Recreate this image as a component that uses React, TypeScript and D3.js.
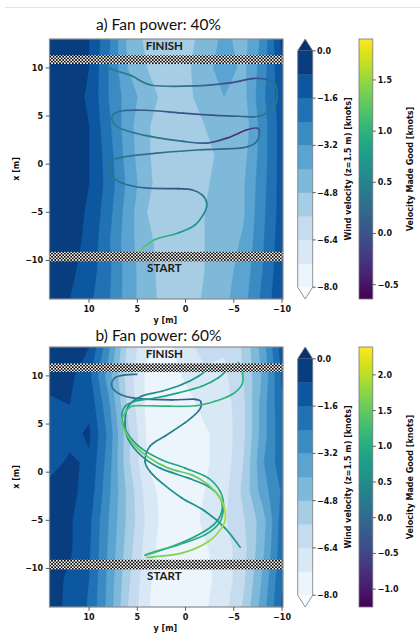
import React from 'react';
import * as d3 from 'd3';

// ---------- data ----------
const gridY = [14, 12, 10, 8, 6, 4, 2, 0, -2, -4, -6, -8, -10];
const gridX = [13, 10, 7, 4, 1, -2, -5, -8, -11, -14];

const wind40 = [
  [-0.6, -0.5, -0.8, -2.2, -4.2, -5.0, -5.3, -5.1, -4.5, -3.8, -4.3, -3.0, -0.6],
  [-0.3, -0.5, -0.8, -2.4, -4.0, -4.8, -5.2, -5.0, -4.3, -3.6, -4.2, -2.8, -0.9],
  [-0.3, -0.5, -0.9, -2.4, -3.6, -4.4, -5.1, -5.0, -4.5, -4.0, -4.3, -2.6, -1.1],
  [-0.3, -0.5, -0.8, -2.2, -3.7, -4.7, -5.3, -5.2, -4.8, -4.5, -4.5, -2.8, -1.2],
  [-0.3, -0.5, -0.8, -2.0, -3.6, -4.7, -5.3, -5.4, -5.0, -4.6, -4.3, -2.8, -1.2],
  [-0.3, -0.5, -0.8, -1.9, -3.4, -4.6, -5.3, -5.3, -4.9, -4.5, -4.1, -2.7, -1.2],
  [-0.3, -0.5, -0.9, -2.1, -3.6, -4.8, -5.3, -5.3, -4.8, -4.5, -4.1, -2.6, -1.2],
  [-0.3, -0.5, -1.0, -2.3, -3.7, -4.6, -5.2, -5.4, -4.8, -4.4, -3.9, -2.5, -1.1],
  [-0.4, -0.6, -1.2, -2.2, -3.6, -4.5, -5.2, -5.3, -4.8, -4.3, -3.7, -2.4, -1.0],
  [-0.5, -0.8, -1.4, -2.3, -3.6, -4.5, -5.1, -5.2, -4.7, -4.2, -3.5, -2.2, -0.9],
];

const wind60 = [
  [-0.6, -0.5, -0.8, -3.0, -5.8, -7.0, -7.4, -6.8, -6.0, -6.3, -5.5, -3.6, -1.2],
  [-0.4, -0.6, -1.4, -3.6, -6.0, -7.4, -7.6, -7.1, -6.6, -6.6, -5.6, -3.9, -1.5],
  [-1.0, -0.8, -1.0, -3.0, -5.8, -7.4, -7.6, -7.5, -7.0, -6.8, -5.8, -3.6, -1.7],
  [-1.2, -1.0, -0.7, -2.6, -5.4, -7.3, -7.6, -7.7, -7.3, -6.9, -5.8, -3.6, -1.8],
  [-1.0, -0.7, -0.9, -2.8, -5.4, -7.2, -7.7, -7.7, -7.3, -6.9, -5.6, -3.3, -1.9],
  [-0.6, -0.6, -1.1, -3.0, -5.0, -6.8, -7.6, -7.7, -7.2, -6.7, -5.4, -3.6, -2.3],
  [-0.4, -0.7, -1.4, -3.2, -5.0, -6.6, -7.6, -7.7, -7.0, -6.5, -5.7, -4.4, -2.0],
  [-0.5, -0.7, -1.5, -3.3, -5.2, -6.8, -7.7, -7.8, -7.3, -6.8, -5.9, -4.2, -1.9],
  [-0.6, -0.9, -1.6, -3.4, -5.4, -7.0, -7.8, -7.9, -7.4, -6.9, -5.8, -3.9, -1.7],
  [-0.5, -1.0, -1.7, -3.5, -5.6, -7.1, -7.8, -7.9, -7.3, -6.7, -5.5, -3.6, -1.5],
];

const windLevels = [-8, -7.2, -6.4, -5.6, -4.8, -4.0, -3.2, -2.4, -1.6, -0.8, 0];
const windTicks = [0, -1.6, -3.2, -4.8, -6.4, -8];
const axisTicks = [10, 5, 0, -5, -10];
const yDomain = [14.1, -10.1];
const xDomain = [13, -14];
const finishLine = [10.4, 11.3];
const startLine = [-10.1, -9.1];
const vmgDomain40 = [-0.64, 1.9];
const vmgTicks40 = [-0.5, 0, 0.5, 1.0, 1.5];
const vmgDomain60 = [-1.25, 2.39];
const vmgTicks60 = [-1.0, -0.5, 0, 0.5, 1.0, 1.5, 2.0];

// trajectories: [y, x, VMG]
const run40 = [
  [4.78, -9.0, 1.35], [3.16, -7.83, 1.05], [0.74, -7.14, 0.8], [-0.99, -6.3, 0.65],
  [-2.03, -4.9, 0.55], [-2.2, -4.03, 0.45], [-1.69, -3.17, 0.35], [-0.65, -2.65, 0.1],
  [0.74, -2.54, -0.1], [4.2, -2.47, 0.2], [6.6, -1.95, 0.3], [7.82, -1.1, 0.35],
  [8.05, -0.3, 0.35], [7.48, 0.46, 0.35], [6.09, 0.8, 0.3], [2.98, 1.15, 0.3],
  [-1.51, 1.5, 0.25], [-5.66, 1.67, 0.2], [-7.22, 2.19, 0.25], [-7.66, 3.23, 0.3],
  [-7.4, 3.74, 0.0], [-6.36, 3.57, -0.3], [-4.28, 2.71, -0.3], [-2.2, 2.19, 0.1],
  [0.22, 2.36, 0.3], [3.67, 2.88, 0.35], [6.79, 3.74, 0.4], [7.65, 4.78, 0.35],
  [6.79, 5.5, 0.25], [4.2, 5.6, 0.1], [0.22, 5.3, 0.0], [-2.7, 5.1, 0.0],
  [-5.5, 4.98, 0.15], [-7.74, 5.0, 0.3], [-9.3, 6.23, 0.35], [-9.47, 7.27, 0.35],
  [-9.3, 8.3, 0.3], [-8.26, 8.82, 0.1], [-6.87, 8.89, -0.1], [-4.8, 8.47, -0.05],
  [-0.99, 8.13, 0.3], [3.5, 8.2, 0.4], [5.57, 9.17, 0.4], [7.65, 9.86, 0.4],
  [8.52, 10.38, 0.4], [9.2, 10.9, 0.4],
];

const run60a = [
  [-5.66, -7.8, 0.75], [-4.1, -5.8, 0.7], [-2.03, -4.06, 0.6], [0.39, -2.68, 0.55],
  [2.46, -1.12, 0.5], [3.67, 0.06, 0.45], [4.2, 1.14, 0.4], [3.67, 2.72, 0.35],
  [2.12, 3.76, 0.3], [0.04, 5.14, 0.25], [-1.34, 6.35, 0.2], [-1.62, 7.22, 0.0],
  [-0.99, 7.57, -0.3], [1.42, 7.5, -0.2], [4.89, 7.63, 0.0], [6.79, 8.09, 0.1],
  [7.65, 8.95, 0.15], [7.3, 9.81, 0.15], [6.27, 10.1, 0.1], [5.05, 10.16, 0.1],
];

const run60b = [
  [4.2, -8.65, 1.0], [1.42, -7.72, 0.9], [-0.99, -6.68, 0.8], [-2.9, -5.47, 0.75],
  [-3.76, -4.08, 0.7], [-3.59, -2.7, 0.7], [-2.37, -1.49, 0.65], [-0.3, -0.62, 0.6],
  [2.64, 0.42, 0.6], [4.54, 1.66, 0.55], [5.93, 3.4, 0.55], [6.27, 5.12, 0.5],
  [5.93, 6.85, 0.45], [4.54, 7.9, 0.45], [2.46, 8.4, 0.5], [0.39, 9.1, 0.55],
  [-1.34, 9.97, 0.6], [-2.2, 10.66, 0.6], [-2.5, 11.2, 0.6],
];

const run60c = [
  [4.2, -8.6, 1.3], [3.16, -8.24, 1.2], [0.74, -7.55, 1.1], [-2.03, -6.5, 1.05],
  [-3.59, -5.12, 1.0], [-3.93, -3.4, 1.0], [-3.59, -2.0, 0.95], [-2.37, -0.62, 0.9],
  [0.04, 0.42, 0.9], [2.5, 1.3, 0.9], [4.6, 2.5, 0.85], [6.0, 4.0, 0.85],
  [6.6, 5.6, 0.8], [6.3, 6.8, 0.8], [5.23, 7.37, 0.8], [3.16, 7.7, 0.8],
  [0.74, 8.24, 0.85], [-1.69, 8.93, 0.9], [-3.41, 9.8, 0.9], [-4.3, 10.66, 0.9],
  [-4.6, 11.2, 0.9],
];

const run60d = [
  [4.02, -8.86, 1.6], [0.39, -8.4, 1.7], [-2.37, -7.2, 1.8], [-3.93, -5.47, 1.9],
  [-4.1, -4.08, 1.95], [-3.59, -2.7, 1.8], [-2.37, -1.32, 1.6], [-0.65, -0.28, 1.5],
  [1.78, 0.42, 1.5], [4.0, 1.66, 1.55], [5.6, 3.2, 1.6], [6.6, 5.1, 1.5],
  [6.27, 6.15, 1.4], [5.57, 6.85, 1.3], [4.2, 6.9, 1.2], [1.78, 6.85, 1.15],
  [-0.99, 6.9, 1.1], [-3.07, 7.37, 1.1], [-4.8, 8.07, 1.1], [-5.84, 9.1, 1.1],
  [-5.9, 10.3, 1.1], [-5.45, 11.4, 1.2],
];

// ---------- style ----------
const bluesStops = ['#f7fbff', '#deebf7', '#c6dbef', '#9ecae1', '#6baed6', '#4292c6', '#2171b5', '#08519c', '#08306b'];
const blues = d3.scaleLinear<string>().domain(d3.range(9).map((i) => i / 8)).range(bluesStops).interpolate(d3.interpolateRgb).clamp(true);
const windNorm = d3.scaleLinear().domain([windLevels[0], windLevels[windLevels.length - 1]]).range([0, 1]);
const bandColor = (k: number) => blues(windNorm((windLevels[k] + windLevels[k + 1]) / 2));
const fmt1 = d3.format('.1f');
const fmtInt = d3.format('d');
const tickFont = { fontFamily: 'DejaVu Sans', fontWeight: 700, fontSize: 8, fill: '#111' } as const;

const PL = 49.5, PR = 283, PH = 260;
const CB1 = [297.7, 312.7];
const CB2 = [359, 372.8];

function Trajectory({ run, sy, sx, color, id }: any) {
  const pts = run.map((d: number[]) => [sy(d[0]), sx(d[1])]);
  const segs = [];
  for (let i = 0; i < pts.length - 1; i++) {
    const p0 = pts[Math.max(i - 1, 0)], p1 = pts[i], p2 = pts[i + 1], p3 = pts[Math.min(i + 2, pts.length - 1)];
    const c1 = [p1[0] + (p2[0] - p0[0]) / 6, p1[1] + (p2[1] - p0[1]) / 6];
    const c2 = [p2[0] - (p3[0] - p1[0]) / 6, p2[1] - (p3[1] - p1[1]) / 6];
    const p = d3.path();
    p.moveTo(p1[0], p1[1]);
    p.bezierCurveTo(c1[0], c1[1], c2[0], c2[1], p2[0], p2[1]);
    const gid = `${id}-g${i}`;
    segs.push(
      <g key={i}>
        <defs>
          <linearGradient id={gid} gradientUnits="userSpaceOnUse" x1={p1[0]} y1={p1[1]} x2={p2[0]} y2={p2[1]}>
            <stop offset="0" stopColor={color(run[i][2])} />
            <stop offset="1" stopColor={color(run[i + 1][2])} />
          </linearGradient>
        </defs>
        <path d={p.toString()} fill="none" stroke={`url(#${gid})`} strokeWidth={1.7} strokeLinecap="round" />
      </g>
    );
  }
  return <g>{segs}</g>;
}

function Panel({ id, top, titleY, title, wind, runs, vmgDomain, vmgTicks }: any) {
  const bottom = top + PH;
  const sy = d3.scaleLinear().domain(yDomain).range([PL, PR]);
  const sx = d3.scaleLinear().domain(xDomain).range([top, bottom]);
  const n = gridY.length, m = gridX.length;
  const dG = gridY[1] - gridY[0], dX = gridX[1] - gridX[0];
  const contours = d3.contours().size([n, m]).thresholds(windLevels.slice(0, -1))(wind.flat());
  const proj = d3.geoTransform({
    point(px: number, py: number) {
      (this as any).stream.point(sy(gridY[0] + (px - 0.5) * dG), sx(gridX[0] + (py - 0.5) * dX));
    },
  });
  const geo = d3.geoPath(proj);
  const vmgColor = d3.scaleSequential(d3.interpolateViridis).domain(vmgDomain);

  // wind colorbar
  const tri = 11.8;
  const cb = d3.scaleLinear().domain([windLevels[windLevels.length - 1], windLevels[0]]).range([top + tri, bottom - tri]);
  const cbMid = (CB1[0] + CB1[1]) / 2;
  const vcb = d3.scaleLinear().domain([vmgDomain[1], vmgDomain[0]]).range([top, bottom]);
  const gradStops = d3.range(0, 1.0001, 0.05);

  return (
    <g>
      <defs>
        <clipPath id={`${id}-clip`}>
          <rect x={PL} y={top} width={PR - PL} height={PH} />
        </clipPath>
        <linearGradient id={`${id}-vmg`} x1="0" y1="1" x2="0" y2="0">
          {gradStops.map((t) => (
            <stop key={t} offset={t} stopColor={d3.interpolateViridis(t)} />
          ))}
        </linearGradient>
      </defs>
      <text x={158.5} y={titleY} textAnchor="middle" fontFamily="Lato" fontSize={15.5} fill="#111">{title}</text>
      <g clipPath={`url(#${id}-clip)`}>
        {contours.map((c: any, k: number) => (
          <path key={k} d={geo(c) || ''} fill={bandColor(k)} stroke={bandColor(k)} strokeWidth={0.3} />
        ))}
        {runs.map((r: any, i: number) => (
          <Trajectory key={i} run={r} sy={sy} sx={sx} color={vmgColor} id={`${id}-r${i}`} />
        ))}
        <rect x={PL} y={sx(finishLine[1])} width={PR - PL} height={sx(finishLine[0]) - sx(finishLine[1])} fill="url(#checker)" />
        <rect x={PL} y={sx(startLine[1])} width={PR - PL} height={sx(startLine[0]) - sx(startLine[1])} fill="url(#checker)" />
        <text x={sy(2.2)} y={sx(11.85)} textAnchor="middle" fontFamily="Lato" fontWeight={700} fontSize={11.5} fill="#1a1a1a">FINISH</text>
        <text x={sy(2.2)} y={sx(-11.2)} textAnchor="middle" fontFamily="Lato" fontWeight={700} fontSize={11.5} fill="#1a1a1a">START</text>
      </g>
      <rect x={PL} y={top} width={PR - PL} height={PH} fill="none" stroke="#8a8a8a" strokeWidth={1.2} />
      {/* left axis */}
      {axisTicks.map((t) => (
        <g key={`l${t}`}>
          <line x1={PL - 3.8} x2={PL} y1={sx(t)} y2={sx(t)} stroke="#333" strokeWidth={0.8} />
          <text x={PL - 6.5} y={sx(t) + 3} textAnchor="end" {...tickFont}>{fmtInt(t)}</text>
        </g>
      ))}
      <text transform={`translate(19,${(top + bottom) / 2}) rotate(-90)`} textAnchor="middle" {...tickFont}>x [m]</text>
      {/* bottom axis */}
      {axisTicks.map((t) => (
        <g key={`b${t}`}>
          <line x1={sy(t)} x2={sy(t)} y1={bottom} y2={bottom + 3.8} stroke="#333" strokeWidth={0.8} />
          <text x={sy(t)} y={bottom + 13.3} textAnchor="middle" {...tickFont}>{fmtInt(t)}</text>
        </g>
      ))}
      <text x={sy(2.2) + 1} y={bottom + 23.5} textAnchor="middle" {...tickFont}>y [m]</text>

      {/* wind colorbar */}
      {windLevels.slice(0, -1).map((lv, k) => (
        <rect key={k} x={CB1[0]} y={cb(windLevels[k + 1])} width={CB1[1] - CB1[0]} height={cb(lv) - cb(windLevels[k + 1]) + 0.3} fill={bandColor(k)} />
      ))}
      <path d={`M${CB1[0]},${cb(0)}L${cbMid},${top}L${CB1[1]},${cb(0)}Z`} fill={blues(1)} />
      <path d={`M${CB1[0]},${cb(-8)}L${cbMid},${bottom}L${CB1[1]},${cb(-8)}Z`} fill={blues(0)} />
      <path
        d={`M${CB1[0]},${cb(0)}L${cbMid},${top}L${CB1[1]},${cb(0)}L${CB1[1]},${cb(-8)}L${cbMid},${bottom}L${CB1[0]},${cb(-8)}Z`}
        fill="none" stroke="#777" strokeWidth={0.8}
      />
      {windTicks.map((t) => (
        <g key={`w${t}`}>
          <line x1={CB1[1]} x2={CB1[1] + 3} y1={cb(t)} y2={cb(t)} stroke="#333" strokeWidth={0.8} />
          <text x={CB1[1] + 4.3} y={cb(t) + 3} {...tickFont}>{fmt1(t)}</text>
        </g>
      ))}
      <text transform={`translate(350.5,${(top + bottom) / 2}) rotate(-90)`} textAnchor="middle" {...tickFont}>Wind velocity (z=1.5 m) [knots]</text>

      {/* VMG colorbar */}
      <rect x={CB2[0]} y={top} width={CB2[1] - CB2[0]} height={PH} fill={`url(#${id}-vmg)`} stroke="#777" strokeWidth={0.8} />
      {vmgTicks.map((t: number) => (
        <g key={`v${t}`}>
          <line x1={CB2[1]} x2={CB2[1] + 3} y1={vcb(t)} y2={vcb(t)} stroke="#333" strokeWidth={0.8} />
          <text x={CB2[1] + 5} y={vcb(t) + 3} {...tickFont}>{fmt1(t)}</text>
        </g>
      ))}
      <text transform={`translate(413,${(top + bottom) / 2}) rotate(-90)`} textAnchor="middle" {...tickFont}>Velocity Made Good [knots]</text>
    </g>
  );
}

export default function App() {
  return (
    <svg width={420} height={637} viewBox="0 0 420 637" style={{ position: 'absolute', left: 0, top: 0, background: '#fff' }}>
      <defs>
        <pattern id="checker" width={3.2} height={3.2} patternUnits="userSpaceOnUse">
          <rect width={3.2} height={3.2} fill="#fff" />
          <rect width={1.6} height={1.6} fill="#000" />
          <rect x={1.6} y={1.6} width={1.6} height={1.6} fill="#000" />
        </pattern>
      </defs>
      <rect x={0} y={0} width={420} height={637} fill="#fff" />
      <line x1={5} x2={420} y1={7.5} y2={7.5} stroke="#e2e2e2" strokeWidth={1} />
      <Panel id="pa" top={39} titleY={29.5} title="a) Fan power: 40%" wind={wind40} runs={[run40]} vmgDomain={vmgDomain40} vmgTicks={vmgTicks40} />
      <Panel id="pb" top={347} titleY={341} title="b) Fan power: 60%" wind={wind60} runs={[run60a, run60b, run60c, run60d]} vmgDomain={vmgDomain60} vmgTicks={vmgTicks60} />
    </svg>
  );
}
